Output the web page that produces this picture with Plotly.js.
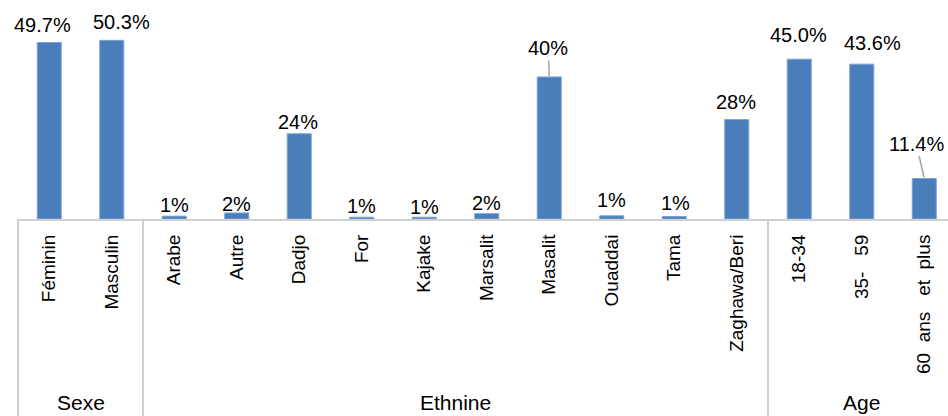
<!DOCTYPE html>
<html>
<head>
<meta charset="utf-8">
<script src="https://cdn.plot.ly/plotly-3.0.1.min.js"></script>
<style>html,body{margin:0;padding:0;background:#fff;}#chart{width:948px;height:416px;}</style>
</head>
<body>
<div id="chart"></div>
<script>
// ---- data ----
var categories = ["Féminin", "Masculin", "Arabe", "Autre", "Dadjo", "For", "Kajake", "Marsalit", "Masalit", "Ouaddai", "Tama", "Zaghawa/Beri", "18-34", "35-\u00a0\u00a0\u00a059", "60\u00a0\u00a0ans\u00a0\u00a0\u00a0et\u00a0\u00a0plus"];
var values = [49.7, 50.3, 0.8, 1.7, 24, 0.5, 0.5, 1.5, 40, 0.9, 0.7, 28, 45.0, 43.6, 11.4];
var valueLabels = ["49.7%", "50.3%", "1%", "2%", "24%", "1%", "1%", "2%", "40%", "1%", "1%", "28%", "45.0%", "43.6%", "11.4%"];
var groupNames = ["Sexe", "Ethnine", "Age"];
var groupSizes = [2, 10, 3];

// ---- layout config (label offsets in px: [dx, dy above bar top], leader flag) ----
var labelOffsets = [[-7,17],[10,18],[0,11],[0,9],[-1,12],[0,11],[0,10],[0,11],[-1,29],[0,16],[1,14],[-1,18],[-1,24],[11,21],[-8,35]];
var leader = [false,false,false,false,false,false,false,false,true,false,false,false,false,false,true];

var x0 = -0.5, x1 = 14.38;
var idx = categories.map(function(_, i){ return i; });
var FONT = 'Liberation Sans, Arial, sans-serif';

var annotations = [];
values.forEach(function(v, i){
  var o = labelOffsets[i];
  if (leader[i]) {
    annotations.push({
      x: i, y: v, xref: 'x', yref: 'y', text: valueLabels[i],
      showarrow: true, arrowhead: 0, arrowwidth: 1.5, arrowcolor: '#a6a6a6',
      ax: o[0], ay: -o[1], axref: 'pixel', ayref: 'pixel', standoff: 1,
      font: {family: FONT, size: 20, color: '#000'}
    });
  } else {
    annotations.push({
      x: i, y: v, xref: 'x', yref: 'y', text: valueLabels[i], showarrow: false,
      xanchor: 'center', yanchor: 'middle', xshift: o[0], yshift: o[1],
      font: {family: FONT, size: 20, color: '#000'}
    });
  }
});

var shapes = [];
var start = 0;
groupNames.forEach(function(g, k){
  var n = groupSizes[k];
  var center = start + (n - 1) / 2;
  annotations.push({
    x: center, y: 0, xref: 'x', yref: 'paper', text: g, showarrow: false,
    xanchor: 'center', yanchor: 'middle', yshift: -183.5,
    font: {family: FONT, size: 21, color: '#000'}
  });
  var bx = (start - 0.5 - x0) / (x1 - x0);
  shapes.push({type: 'line', xref: 'paper', yref: 'paper', x0: bx, x1: bx, y0: 0, y1: -1,
    line: {color: '#d0d0d0', width: 2}});
  start += n;
});

var trace = {
  type: 'bar', x: idx, y: values, width: 0.385,
  marker: {color: '#4a7ebb', line: {color: '#7ea3d3', width: 1}},
  hoverinfo: 'none'
};

var layout = {
  width: 948, height: 416,
  margin: {l: 18, r: 0, t: 0, b: 196.5},
  paper_bgcolor: '#fff', plot_bgcolor: '#fff',
  showlegend: false,
  xaxis: {
    type: 'linear', range: [x0, x1], tickmode: 'array', tickvals: idx, ticktext: categories,
    tickangle: -90, ticks: '', showgrid: false, zeroline: false,
    showline: true, linecolor: '#d0d0d0', linewidth: 2,
    ticklabelstandoff: 6,
    tickfont: {family: FONT, size: 19, color: '#000'}
  },
  yaxis: {range: [0, 61.66], visible: false, showgrid: false, zeroline: false},
  annotations: annotations,
  shapes: shapes
};

Plotly.newPlot('chart', [trace], layout, {staticPlot: true});
</script>
</body>
</html>
